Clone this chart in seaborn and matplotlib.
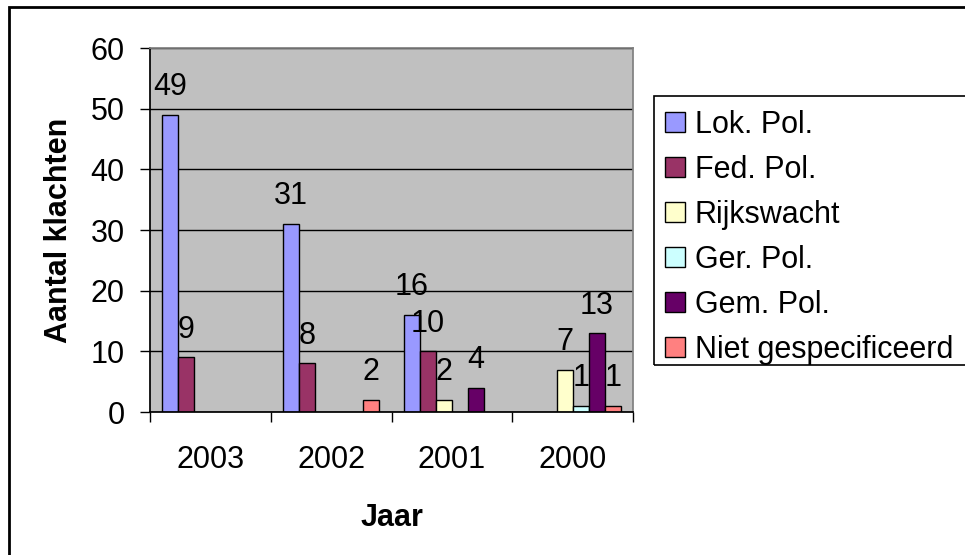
import matplotlib
matplotlib.use("Agg")
import matplotlib.pyplot as plt
from matplotlib.patches import Rectangle
import numpy as np
import pandas as pd
import seaborn as sns

# Klachten per korps en per jaar (None = geen balk)
years = ["2003", "2002", "2001", "2000"]
series = ["Lok. Pol.", "Fed. Pol.", "Rijkswacht", "Ger. Pol.", "Gem. Pol.", "Niet gespecificeerd"]
lok_pol = [49, 31, 16, None]
fed_pol = [9, 8, 10, None]
rijkswacht = [None, None, 2, 7]
ger_pol = [None, None, None, 1]
gem_pol = [None, None, 4, 13]
niet_gespec = [None, 2, None, 1]
colors = ["#9999FF", "#993366", "#FFFFCC", "#CCFFFF", "#660066", "#FF8080"]

values = [lok_pol, fed_pol, rijkswacht, ger_pol, gem_pol, niet_gespec]
rows = []
for name, vals in zip(series, values):
    for yr, v in zip(years, vals):
        if v is not None:
            rows.append({"Jaar": yr, "Korps": name, "Aantal": v})
df = pd.DataFrame(rows)

sns.set_theme(style="white")
plt.rcParams["font.family"] = ["Liberation Sans", "DejaVu Sans"]
for key in ["text.color", "axes.labelcolor", "xtick.color", "ytick.color"]:
    plt.rcParams[key] = "black"
FS = 22

fig = plt.figure(figsize=(9.65, 5.55), dpi=100)
ax = fig.add_axes([150 / 965, 1 - 412 / 555, 483 / 965, 364 / 555])
ax.set_facecolor("#C0C0C0")

sns.barplot(data=df, x="Jaar", y="Aantal", hue="Korps", order=years, hue_order=series,
            palette=colors, saturation=1, edgecolor="black", linewidth=1, width=0.8, ax=ax)

for cont in ax.containers:
    ax.bar_label(cont, fmt="%g", padding=9, fontsize=FS, color="black")

ax.set_ylim(0, 60)
ax.set_xlim(-0.5, 3.5)
ax.set_yticks(np.arange(0, 61, 10))
ax.yaxis.grid(True, color="black", linewidth=1)
ax.set_axisbelow(True)
ax.tick_params(axis="y", direction="out", length=7.2, width=1, color="black", labelsize=FS, pad=11, left=True)
ax.set_xticks(range(len(years)))
ax.set_xticklabels(years)
ax.tick_params(axis="x", which="major", length=0, labelsize=FS, pad=24)
ax.set_xticks(np.arange(-0.5, 4, 1), minor=True)
ax.tick_params(axis="x", which="minor", direction="out", length=7.2, width=1, color="black", bottom=True)

for side in ["top", "right"]:
    ax.spines[side].set_color("#808080")
for side in ["left", "bottom"]:
    ax.spines[side].set_color("black")

ax.set_ylabel("Aantal klachten", fontsize=FS, fontweight="bold", labelpad=12)
ax.set_xlabel("Jaar", fontsize=FS, fontweight="bold", labelpad=20)

handles, labels = ax.get_legend_handles_labels()
ax.legend_.remove()
fig.legend(handles, labels, loc="upper left", bbox_to_anchor=(665 / 965, 1 - 110 / 555),
           bbox_transform=fig.transFigure, frameon=False, fontsize=FS, borderpad=0,
           handlelength=0.65, handleheight=0.65, handletextpad=0.33, labelspacing=0.49, borderaxespad=0)

# Legend frame and outer chart border (both run past the right edge)
fig.add_artist(Rectangle((654 / 965, 1 - 365 / 555), 0.4, 269 / 555, transform=fig.transFigure,
                         fill=False, edgecolor="black", linewidth=1.2))
fig.add_artist(Rectangle((9 / 965, -0.1), 1.1, 1.1 - 7 / 555, transform=fig.transFigure,
                         fill=False, edgecolor="black", linewidth=2))

fig.savefig("out.png", dpi=100)
